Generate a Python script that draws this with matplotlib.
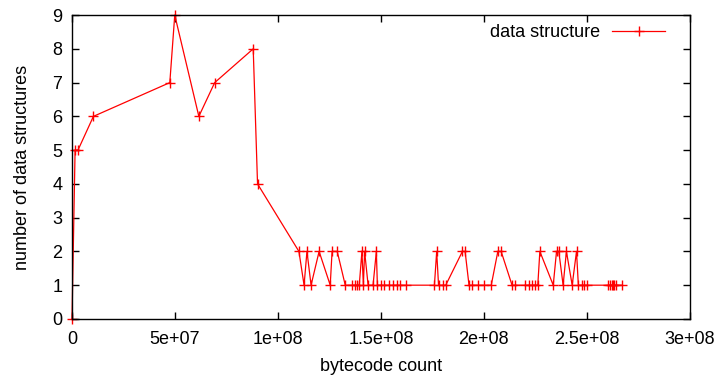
import numpy as np
import matplotlib
matplotlib.use('Agg')
import matplotlib.pyplot as plt

plt.rcParams['font.family'] = ['Liberation Sans', 'DejaVu Sans']

# bytecode count (millions) and number of data structures
bytecode_m = [0, 1.5, 2.9, 10.4, 47.5, 49.9, 61.6, 69.3, 88.0, 90.1,
              110.2, 112.7, 114.1, 116.1, 120.0, 125.4, 126.3, 128.8, 132.7,
              136.1, 137.6, 138.5, 139.5, 140.8, 141.5, 142.1, 143.8, 146.2,
              147.8, 148.3, 150.2, 151.4, 154.0, 156.0, 157.6, 159.2, 162.1,
              176.0, 177.1, 178.0, 180.3, 181.5, 189.6, 190.9, 192.8, 194.1,
              197.4, 200.3, 203.6, 206.8, 208.4, 213.7, 215.0, 220.1, 221.8,
              223.4, 225.0, 226.2, 227.2, 233.7, 235.3, 236.4, 238.5, 240.1,
              242.9, 245.0, 245.9, 247.8, 248.8, 250.2, 260.5, 261.2, 262.0,
              262.7, 263.4, 264.0, 267.3]
n_structs = [0, 5, 5, 6, 7, 9, 6, 7, 8, 4,
             2, 1, 2, 1, 2, 1, 2, 2, 1,
             1, 1, 1, 1, 2, 1, 2, 1, 1,
             2, 1, 1, 1, 1, 1, 1, 1, 1,
             1, 2, 1, 1, 1, 2, 2, 1, 1,
             1, 1, 1, 2, 2, 1, 1, 1, 1,
             1, 1, 1, 2, 1, 2, 2, 1, 2,
             1, 2, 1, 1, 1, 1, 1, 1, 1,
             1, 1, 1, 1]

x_ticks = [0, 5e7, 1e8, 1.5e8, 2e8, 2.5e8, 3e8]
x_labels = ['0', '5e+07', '1e+08', '1.5e+08', '2e+08', '2.5e+08', '3e+08']

x = np.array(bytecode_m) * 1e6
y = np.array(n_structs)

fs = 13
fig = plt.figure(figsize=(7.2, 3.77), dpi=100)
ax = fig.add_axes([0.1, 0.154, 0.858, 0.806])

ax.plot(x, y, color='#ff0000', lw=0.9, marker='+', ms=6.5, mew=1,
        label='data structure', clip_on=False)

ax.set_xlim(0, 3e8)
ax.set_ylim(0, 9)
ax.set_xticks(x_ticks)
ax.set_xticklabels(x_labels)
ax.set_yticks(range(10))
ax.tick_params(direction='in', top=True, right=True, length=5, width=1,
               labelsize=fs)
ax.tick_params(axis='x', pad=9)
ax.tick_params(axis='y', pad=7)
for s in ax.spines.values():
    s.set_linewidth(1)

ax.set_xlabel('bytecode count', fontsize=fs, labelpad=7)
ax.set_ylabel('number of data structures', fontsize=fs, labelpad=15)

leg = ax.legend(loc='upper right', bbox_to_anchor=(0.9595, 0.97),
                frameon=False, fontsize=fs, markerfirst=False,
                handlelength=2.9, handletextpad=0.7,
                borderaxespad=0, borderpad=0)

fig.savefig('out.png', dpi=100)
